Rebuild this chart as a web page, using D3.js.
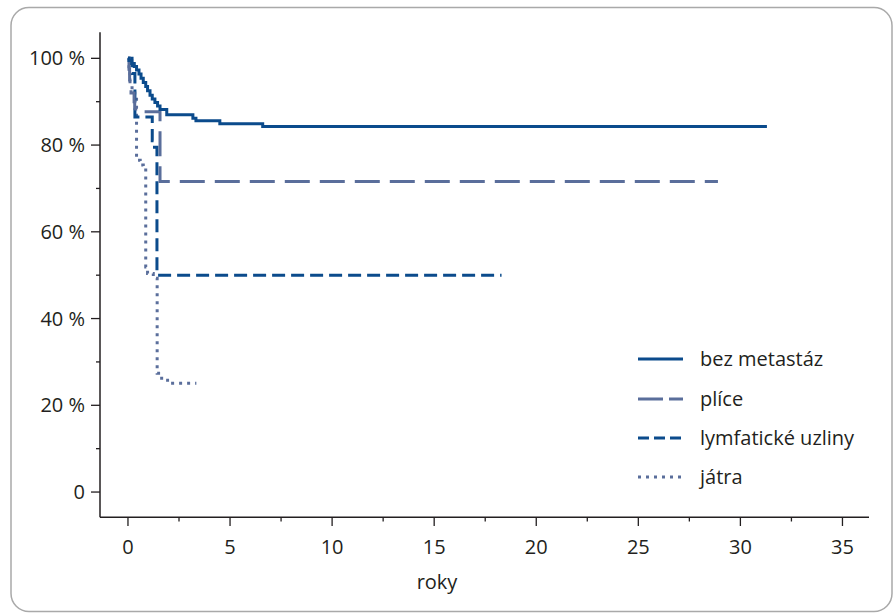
<!DOCTYPE html>
<html>
<head>
<meta charset="utf-8">
<script src="https://cdn.jsdelivr.net/npm/d3@7"></script>
<style>
  html, body { margin: 0; padding: 0; background: #fff; }
  svg { display: block; font-family: "Open Sans", "Noto Sans", sans-serif; }
</style>
</head>
<body>
<svg id="chart" width="894" height="613"></svg>
<script>
// ---- data ----
const seriesNames = ["bez metastáz", "plíce", "lymfatické uzliny", "játra"];

const bezMetT = [0, 0.05, 0.18, 0.31, 0.42, 0.54, 0.64, 0.75, 0.87, 0.96, 1.08, 1.19, 1.32, 1.45, 1.57, 1.9, 3.18, 3.33, 4.5, 6.6, 31.3];
const bezMetS = [100, 99.5, 98.8, 98.1, 97.3, 96.4, 95.4, 94.4, 93.5, 92.5, 91.5, 90.6, 89.8, 89.0, 88.2, 87.0, 86.2, 85.6, 84.9, 84.3, 84.3];

const pliceT = [0, 0.05, 0.08, 0.1, 0.15, 0.3, 0.33, 0.38, 1.57, 28.9];
const pliceS = [100, 97.5, 95, 93, 92, 90, 88.5, 87.7, 71.6, 71.6];

const lymfT = [0, 0.2, 0.34, 1.19, 1.3, 1.42, 18.3];
const lymfS = [100, 96.5, 86.5, 81, 79.5, 50, 50];

const jatraT = [0, 0.05, 0.1, 0.2, 0.42, 0.6, 0.75, 0.87, 0.96, 1.24, 1.43, 1.65, 1.94, 3.35];
const jatraS = [100, 97, 94, 92, 76.5, 75.4, 74.6, 51.9, 50.4, 49.3, 27.4, 25.8, 25.1, 25.1];

const xTicks = [0, 5, 10, 15, 20, 25, 30, 35];
const xMinorTicks = [2.5, 7.5, 12.5, 17.5, 22.5, 27.5, 32.5];
const yTicks = [0, 20, 40, 60, 80, 100];
const yTickLabels = ["0", "20 %", "40 %", "60 %", "80 %", "100 %"];
const yMinorTicks = [10, 30, 50, 70, 90];
const xLabel = "roky";

// ---- styling ----
const dark = "#0b4b8c";
const grey = "#5a6e9b";
const styles = [
  { color: dark, dash: null },
  { color: grey, dash: "25,10" },
  { color: dark, dash: "13,6" },
  { color: grey, dash: "3,5" }
];

const svg = d3.select("#chart");

// frame
svg.append("rect")
  .attr("x", 11).attr("y", 7.5)
  .attr("width", 881).attr("height", 604)
  .attr("rx", 18).attr("ry", 18)
  .attr("fill", "none").attr("stroke", "#a9a9a9").attr("stroke-width", 1.5);

const x = d3.scaleLinear().domain([-1.37, 36.3]).range([100, 869]);
const y = d3.scaleLinear().domain([-5.8, 106]).range([517.2, 32.3]);

const axisColor = "#231f20";
const fontSize = 20;

// y axis
const yAxis = svg.append("g");
yAxis.append("line").attr("x1", 100).attr("x2", 100).attr("y1", y(106)).attr("y2", y(-5.8))
  .attr("stroke", axisColor).attr("stroke-width", 1.5);
yAxis.selectAll(".ymaj").data(yTicks).join("line")
  .attr("class", "ymaj")
  .attr("x1", 91).attr("x2", 100).attr("y1", d => y(d)).attr("y2", d => y(d))
  .attr("stroke", axisColor).attr("stroke-width", 1.3);
yAxis.selectAll(".ymin").data(yMinorTicks).join("line")
  .attr("class", "ymin")
  .attr("x1", 96).attr("x2", 100).attr("y1", d => y(d)).attr("y2", d => y(d))
  .attr("stroke", axisColor).attr("stroke-width", 1.3);
yAxis.selectAll("text").data(yTicks).join("text")
  .attr("x", 85).attr("y", d => y(d)).attr("dy", "0.35em")
  .attr("text-anchor", "end").attr("font-size", fontSize).attr("fill", axisColor)
  .text((d, i) => yTickLabels[i]);

// x axis
const xAxis = svg.append("g");
xAxis.append("line").attr("x1", 100).attr("x2", x(36.3)).attr("y1", 517.2).attr("y2", 517.2)
  .attr("stroke", axisColor).attr("stroke-width", 1.5);
xAxis.selectAll(".xmaj").data(xTicks).join("line")
  .attr("class", "xmaj")
  .attr("x1", d => x(d)).attr("x2", d => x(d)).attr("y1", 517.2).attr("y2", 526)
  .attr("stroke", axisColor).attr("stroke-width", 1.3);
xAxis.selectAll(".xmin").data(xMinorTicks).join("line")
  .attr("class", "xmin")
  .attr("x1", d => x(d)).attr("x2", d => x(d)).attr("y1", 517.2).attr("y2", 521.5)
  .attr("stroke", axisColor).attr("stroke-width", 1.3);
xAxis.selectAll("text").data(xTicks).join("text")
  .attr("x", d => x(d)).attr("y", 547).attr("dy", "0.35em")
  .attr("text-anchor", "middle").attr("font-size", fontSize).attr("fill", axisColor)
  .text(d => d);
svg.append("text").attr("x", 437).attr("y", 582).attr("dy", "0.35em")
  .attr("text-anchor", "middle").attr("font-size", fontSize).attr("fill", axisColor)
  .text(xLabel);

// curves
const seriesData = [
  bezMetT.map((t, i) => [t, bezMetS[i]]),
  pliceT.map((t, i) => [t, pliceS[i]]),
  lymfT.map((t, i) => [t, lymfS[i]]),
  jatraT.map((t, i) => [t, jatraS[i]])
];
const line = d3.line().x(d => x(d[0])).y(d => y(d[1])).curve(d3.curveStepAfter);

// draw in reverse order so the solid line is on top
[3, 2, 1, 0].forEach(i => {
  svg.append("path")
    .attr("d", line(seriesData[i]))
    .attr("fill", "none")
    .attr("stroke", styles[i].color)
    .attr("stroke-width", 3)
    .attr("stroke-dasharray", styles[i].dash)
    .attr("stroke-linejoin", "miter");
});

// legend
const legendY = [359, 399, 438, 477];
const legend = svg.append("g");
seriesNames.forEach((name, i) => {
  legend.append("line")
    .attr("x1", 638).attr("x2", 683).attr("y1", legendY[i]).attr("y2", legendY[i])
    .attr("stroke", styles[i].color).attr("stroke-width", 3)
    .attr("stroke-dasharray", i === 1 ? "25,6" : i === 2 ? "11,5" : styles[i].dash);
  legend.append("text")
    .attr("x", 700).attr("y", legendY[i]).attr("dy", "0.35em")
    .attr("font-size", fontSize).attr("fill", axisColor)
    .text(name);
});
</script>
</body>
</html>
